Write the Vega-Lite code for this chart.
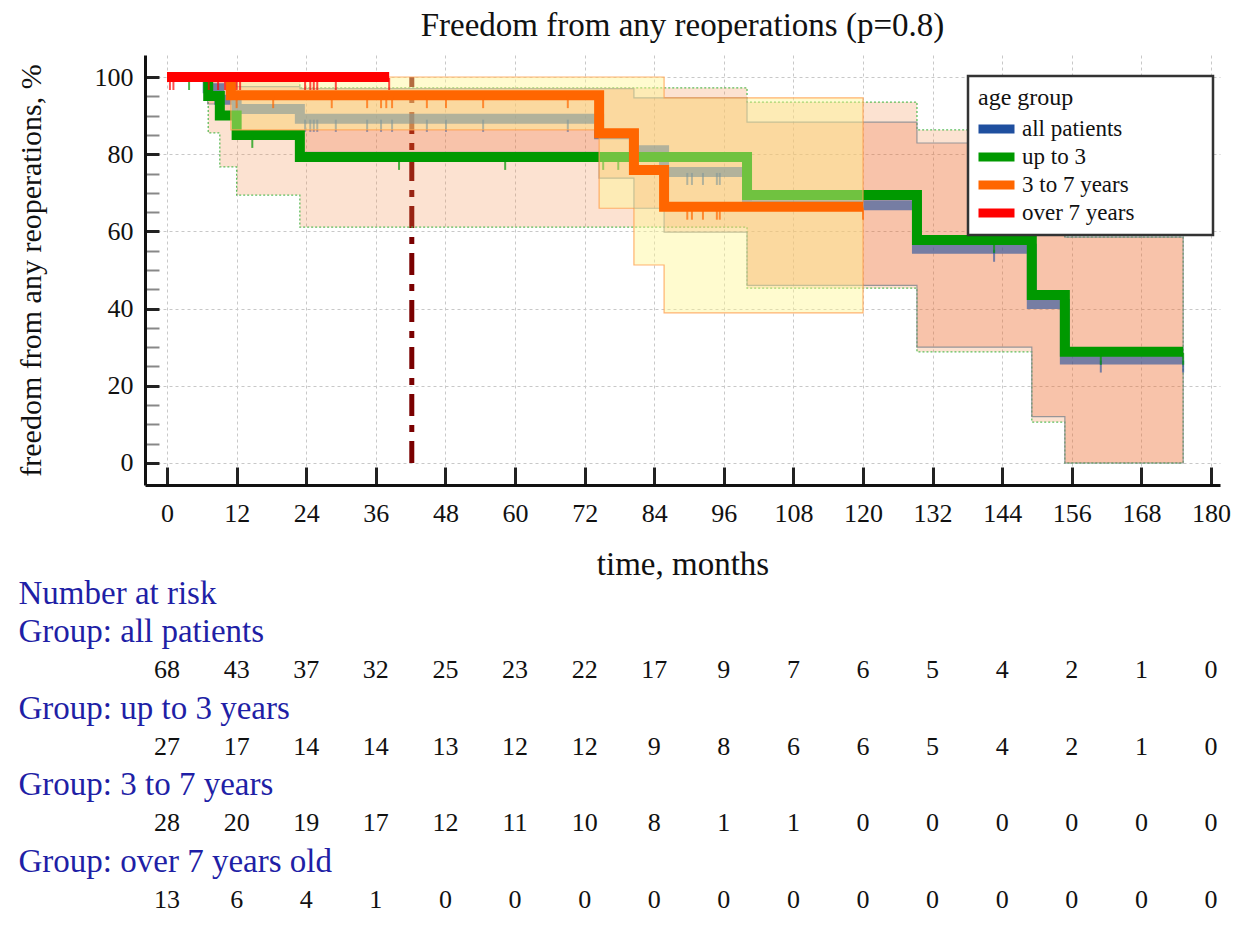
{
  "$schema": "https://vega.github.io/schema/vega-lite/v6.json",
  "autosize": {"type": "none"},
  "padding": {"left": 145, "top": 55, "right": 23, "bottom": 451},
  "width": 1075,
  "height": 430,
  "background": "white",
  "title": {"text": "Freedom from any reoperations (p=0.8)", "font": "Liberation Serif", "fontSize": 33, "fontWeight": "normal", "color": "#111", "anchor": "middle", "frame": "group", "offset": 12},
  "config": {
    "font": "Liberation Serif",
    "view": {"stroke": null},
    "axis": {"labelFont": "Liberation Serif", "titleFont": "Liberation Serif", "labelColor": "#111", "titleColor": "#111", "titleFontWeight": "normal"}
  },
  "datasets": {
    "marker": [{"month": 42.2, "value": 0, "value2": 100}],
    "curves": [
      {"group": "all patients", "month": 0, "value": 100},
      {"group": "all patients", "month": 7, "value": 97.1},
      {"group": "all patients", "month": 9, "value": 94.1},
      {"group": "all patients", "month": 12, "value": 91.7},
      {"group": "all patients", "month": 22.9, "value": 89.2},
      {"group": "all patients", "month": 74.5, "value": 85.2},
      {"group": "all patients", "month": 80.5, "value": 81},
      {"group": "all patients", "month": 85.7, "value": 75.4},
      {"group": "all patients", "month": 100, "value": 66.8},
      {"group": "all patients", "month": 129.3, "value": 55.5},
      {"group": "all patients", "month": 149.1, "value": 41.2},
      {"group": "all patients", "month": 154.8, "value": 26.8},
      {"group": "all patients", "month": 175.2, "value": 26.8},
      {"group": "up to 3", "month": 0, "value": 100},
      {"group": "up to 3", "month": 7.1, "value": 95.1},
      {"group": "up to 3", "month": 9.1, "value": 90.0},
      {"group": "up to 3", "month": 12, "value": 85.0},
      {"group": "up to 3", "month": 22.9, "value": 79.3},
      {"group": "up to 3", "month": 100, "value": 69.4},
      {"group": "up to 3", "month": 129.3, "value": 57.8},
      {"group": "up to 3", "month": 149.1, "value": 43.5},
      {"group": "up to 3", "month": 154.8, "value": 28.8},
      {"group": "up to 3", "month": 175.2, "value": 28.8},
      {"group": "3 to 7 years", "month": 0, "value": 100},
      {"group": "3 to 7 years", "month": 11, "value": 95.3},
      {"group": "3 to 7 years", "month": 74.5, "value": 85.4},
      {"group": "3 to 7 years", "month": 80.5, "value": 75.9},
      {"group": "3 to 7 years", "month": 85.7, "value": 66.4},
      {"group": "3 to 7 years", "month": 120, "value": 66.4},
      {"group": "over 7 years", "month": 0, "value": 100},
      {"group": "over 7 years", "month": 38.3, "value": 100}
    ],
    "bands": [
      {"band": "A", "month": 0, "value2": 100, "value": 100},
      {"band": "A", "month": 7.1, "value2": 85.5, "value": 100},
      {"band": "A", "month": 9.1, "value2": 76.7, "value": 100},
      {"band": "A", "month": 12, "value2": 69.4, "value": 100},
      {"band": "A", "month": 22.9, "value2": 61.1, "value": 97.2},
      {"band": "A", "month": 100, "value2": 45.3, "value": 93.5},
      {"band": "A", "month": 129.3, "value2": 28.8, "value": 86.3},
      {"band": "A", "month": 149.1, "value2": 10.6, "value": 72},
      {"band": "A", "month": 154.8, "value2": 0, "value": 58.5},
      {"band": "A", "month": 175.2, "value2": 0, "value": 58.5},
      {"band": "B", "month": 0, "value2": 100, "value": 100},
      {"band": "B", "month": 11, "value2": 86.3, "value": 100},
      {"band": "B", "month": 74.5, "value2": 66, "value": 100},
      {"band": "B", "month": 80.5, "value2": 51.3, "value": 100},
      {"band": "B", "month": 85.7, "value2": 38.9, "value": 94.6},
      {"band": "B", "month": 120, "value2": 38.9, "value": 94.6},
      {"band": "C", "month": 0, "value2": 100, "value": 100},
      {"band": "C", "month": 7, "value2": 93, "value": 100},
      {"band": "C", "month": 9, "value2": 89, "value": 100},
      {"band": "C", "month": 12, "value2": 85, "value": 97.5},
      {"band": "C", "month": 22.9, "value2": 80.5, "value": 97},
      {"band": "C", "month": 74.5, "value2": 73.8, "value": 97},
      {"band": "C", "month": 80.5, "value2": 66, "value": 94.6},
      {"band": "C", "month": 85.7, "value2": 59.8, "value": 94.6},
      {"band": "C", "month": 100, "value2": 46, "value": 88.3},
      {"band": "C", "month": 129.3, "value2": 30, "value": 82.9},
      {"band": "C", "month": 149.1, "value2": 12, "value": 70},
      {"band": "C", "month": 154.8, "value2": 0, "value": 58.5},
      {"band": "C", "month": 175.2, "value2": 0, "value": 58.5}
    ],
    "censor": [
      {"group": "over 7 years", "month": 0.5, "value": 100},
      {"group": "over 7 years", "month": 1.1, "value": 100},
      {"group": "over 7 years", "month": 7.2, "value": 100},
      {"group": "over 7 years", "month": 8.8, "value": 100},
      {"group": "over 7 years", "month": 10, "value": 100},
      {"group": "over 7 years", "month": 12, "value": 100},
      {"group": "over 7 years", "month": 12.6, "value": 100},
      {"group": "over 7 years", "month": 23.8, "value": 100},
      {"group": "over 7 years", "month": 24.7, "value": 100},
      {"group": "over 7 years", "month": 25.3, "value": 100},
      {"group": "over 7 years", "month": 25.9, "value": 100},
      {"group": "over 7 years", "month": 29.1, "value": 100},
      {"group": "over 7 years", "month": 38.3, "value": 100},
      {"group": "3 to 7 years", "month": 12, "value": 95.3},
      {"group": "3 to 7 years", "month": 18.3, "value": 95.3},
      {"group": "3 to 7 years", "month": 28.4, "value": 95.3},
      {"group": "3 to 7 years", "month": 34.5, "value": 95.3},
      {"group": "3 to 7 years", "month": 36.9, "value": 95.3},
      {"group": "3 to 7 years", "month": 37.8, "value": 95.3},
      {"group": "3 to 7 years", "month": 38.8, "value": 95.3},
      {"group": "3 to 7 years", "month": 44.8, "value": 95.3},
      {"group": "3 to 7 years", "month": 48.1, "value": 95.3},
      {"group": "3 to 7 years", "month": 54.5, "value": 95.3},
      {"group": "3 to 7 years", "month": 69.1, "value": 95.3},
      {"group": "3 to 7 years", "month": 89.7, "value": 66.4},
      {"group": "3 to 7 years", "month": 90.5, "value": 66.4},
      {"group": "3 to 7 years", "month": 92.4, "value": 66.4},
      {"group": "3 to 7 years", "month": 94.8, "value": 66.4},
      {"group": "3 to 7 years", "month": 95.3, "value": 66.4},
      {"group": "3 to 7 years", "month": 120, "value": 66.4},
      {"group": "up to 3", "month": 3.8, "value": 100},
      {"group": "up to 3", "month": 14.7, "value": 85},
      {"group": "up to 3", "month": 40, "value": 79.3},
      {"group": "up to 3", "month": 58.3, "value": 79.3},
      {"group": "up to 3", "month": 75.2, "value": 79.3},
      {"group": "up to 3", "month": 77.8, "value": 79.3},
      {"group": "up to 3", "month": 142.6, "value": 57.8},
      {"group": "up to 3", "month": 161, "value": 28.8},
      {"group": "up to 3", "month": 175.2, "value": 28.8},
      {"group": "all patients", "month": 23.8, "value": 89.2},
      {"group": "all patients", "month": 24.7, "value": 89.2},
      {"group": "all patients", "month": 25.3, "value": 89.2},
      {"group": "all patients", "month": 25.9, "value": 89.2},
      {"group": "all patients", "month": 29.1, "value": 89.2},
      {"group": "all patients", "month": 34.5, "value": 89.2},
      {"group": "all patients", "month": 36.9, "value": 89.2},
      {"group": "all patients", "month": 38.8, "value": 89.2},
      {"group": "all patients", "month": 44.8, "value": 89.2},
      {"group": "all patients", "month": 48.1, "value": 89.2},
      {"group": "all patients", "month": 54.5, "value": 89.2},
      {"group": "all patients", "month": 69.1, "value": 89.2},
      {"group": "all patients", "month": 89.7, "value": 75.4},
      {"group": "all patients", "month": 90.5, "value": 75.4},
      {"group": "all patients", "month": 92.4, "value": 75.4},
      {"group": "all patients", "month": 94.8, "value": 75.4},
      {"group": "all patients", "month": 95.3, "value": 75.4},
      {"group": "all patients", "month": 142.6, "value": 55.5},
      {"group": "all patients", "month": 161, "value": 26.8},
      {"group": "all patients", "month": 175.2, "value": 26.8}
    ],
    "risk": [
      {"row": "all patients", "month": 0, "n": 68}, {"row": "all patients", "month": 12, "n": 43}, {"row": "all patients", "month": 24, "n": 37}, {"row": "all patients", "month": 36, "n": 32},
      {"row": "all patients", "month": 48, "n": 25}, {"row": "all patients", "month": 60, "n": 23}, {"row": "all patients", "month": 72, "n": 22}, {"row": "all patients", "month": 84, "n": 17},
      {"row": "all patients", "month": 96, "n": 9}, {"row": "all patients", "month": 108, "n": 7}, {"row": "all patients", "month": 120, "n": 6}, {"row": "all patients", "month": 132, "n": 5},
      {"row": "all patients", "month": 144, "n": 4}, {"row": "all patients", "month": 156, "n": 2}, {"row": "all patients", "month": 168, "n": 1}, {"row": "all patients", "month": 180, "n": 0},
      {"row": "up to 3 years", "month": 0, "n": 27}, {"row": "up to 3 years", "month": 12, "n": 17}, {"row": "up to 3 years", "month": 24, "n": 14}, {"row": "up to 3 years", "month": 36, "n": 14},
      {"row": "up to 3 years", "month": 48, "n": 13}, {"row": "up to 3 years", "month": 60, "n": 12}, {"row": "up to 3 years", "month": 72, "n": 12}, {"row": "up to 3 years", "month": 84, "n": 9},
      {"row": "up to 3 years", "month": 96, "n": 8}, {"row": "up to 3 years", "month": 108, "n": 6}, {"row": "up to 3 years", "month": 120, "n": 6}, {"row": "up to 3 years", "month": 132, "n": 5},
      {"row": "up to 3 years", "month": 144, "n": 4}, {"row": "up to 3 years", "month": 156, "n": 2}, {"row": "up to 3 years", "month": 168, "n": 1}, {"row": "up to 3 years", "month": 180, "n": 0},
      {"row": "3 to 7 years", "month": 0, "n": 28}, {"row": "3 to 7 years", "month": 12, "n": 20}, {"row": "3 to 7 years", "month": 24, "n": 19}, {"row": "3 to 7 years", "month": 36, "n": 17},
      {"row": "3 to 7 years", "month": 48, "n": 12}, {"row": "3 to 7 years", "month": 60, "n": 11}, {"row": "3 to 7 years", "month": 72, "n": 10}, {"row": "3 to 7 years", "month": 84, "n": 8},
      {"row": "3 to 7 years", "month": 96, "n": 1}, {"row": "3 to 7 years", "month": 108, "n": 1}, {"row": "3 to 7 years", "month": 120, "n": 0}, {"row": "3 to 7 years", "month": 132, "n": 0},
      {"row": "3 to 7 years", "month": 144, "n": 0}, {"row": "3 to 7 years", "month": 156, "n": 0}, {"row": "3 to 7 years", "month": 168, "n": 0}, {"row": "3 to 7 years", "month": 180, "n": 0},
      {"row": "over 7 years old", "month": 0, "n": 13}, {"row": "over 7 years old", "month": 12, "n": 6}, {"row": "over 7 years old", "month": 24, "n": 4}, {"row": "over 7 years old", "month": 36, "n": 1},
      {"row": "over 7 years old", "month": 48, "n": 0}, {"row": "over 7 years old", "month": 60, "n": 0}, {"row": "over 7 years old", "month": 72, "n": 0}, {"row": "over 7 years old", "month": 84, "n": 0},
      {"row": "over 7 years old", "month": 96, "n": 0}, {"row": "over 7 years old", "month": 108, "n": 0}, {"row": "over 7 years old", "month": 120, "n": 0}, {"row": "over 7 years old", "month": 132, "n": 0},
      {"row": "over 7 years old", "month": 144, "n": 0}, {"row": "over 7 years old", "month": 156, "n": 0}, {"row": "over 7 years old", "month": 168, "n": 0}, {"row": "over 7 years old", "month": 180, "n": 0}
    ]
  },
  "resolve": {"scale": {"y": "independent"}},
  "encoding": {
    "x": {"field": "month", "type": "quantitative", "scale": {"domain": [-3.8, 181.55], "nice": false, "zero": false},
      "axis": {"title": "time, months", "values": [0, 12, 24, 36, 48, 60, 72, 84, 96, 108, 120, 132, 144, 156, 168, 180],
        "grid": true, "gridColor": "#c8c8c8", "gridDash": [3, 3], "gridWidth": 1,
        "domainColor": "#111", "domainWidth": 3, "tickColor": "#222", "tickWidth": 3, "tickSize": -18,
        "labelPadding": 33, "labelFontSize": 26, "labelFlush": false, "labelOverlap": false,
        "titleFontSize": 33, "titlePadding": 22}}
  },
  "layer": [
    {
      "encoding": {
        "y": {"field": "value", "type": "quantitative", "scale": {"domain": [-5.7, 105.7], "nice": false, "zero": false},
          "axis": {"title": "freedom from any reoperations, %",
            "values": [0, 5, 10, 15, 20, 25, 30, 35, 40, 45, 50, 55, 60, 65, 70, 75, 80, 85, 90, 95, 100],
            "labelExpr": "datum.value % 20 === 0 ? datum.label : ''",
            "grid": true, "gridColor": "#c8c8c8", "gridDash": [3, 3], "gridWidth": 1,
            "gridOpacity": {"condition": {"test": "datum.value % 20 === 0", "value": 1}, "value": 0},
            "domainColor": "#111", "domainWidth": 3,
            "tickColor": {"condition": {"test": "datum.value % 20 === 0", "value": "#222"}, "value": "#888"},
            "tickWidth": {"condition": {"test": "datum.value % 20 === 0", "value": 3}, "value": 2},
            "tickSize": -14,
            "labelPadding": 26, "labelFontSize": 26, "labelFlush": false, "labelOverlap": false,
            "titleFontSize": 30, "titlePadding": 48}}
      },
      "layer": [
        {
          "data": {"name": "marker"},
          "mark": {"type": "rule", "color": "#7a0000", "strokeWidth": 5, "strokeDash": [22, 9, 7, 9]},
          "encoding": {"y2": {"field": "value2"}}
        },
        {
          "data": {"name": "bands"},
          "transform": [{"filter": "datum.band === 'A'"}],
          "mark": {"type": "area", "interpolate": "step-after", "fill": "#f58c46", "fillOpacity": 0.25, "stroke": "#4cb84c", "strokeWidth": 1.3, "strokeDash": [2, 2], "strokeOpacity": 0.9},
          "encoding": {"y2": {"field": "value2"}}
        },
        {
          "data": {"name": "bands"},
          "transform": [{"filter": "datum.band === 'C'"}],
          "mark": {"type": "area", "interpolate": "step-after", "fill": "#eb4c0f", "fillOpacity": 0.2, "stroke": "#7f8790", "strokeWidth": 1.2, "strokeOpacity": 0.8},
          "encoding": {"y2": {"field": "value2"}}
        },
        {
          "data": {"name": "curves"},
          "transform": [{"filter": "datum.group === 'all patients'"}],
          "mark": {"type": "line", "interpolate": "step-after", "strokeWidth": 10, "strokeOpacity": 0.6},
          "encoding": {
            "color": {"field": "group", "type": "nominal",
              "scale": {"domain": ["all patients", "up to 3", "3 to 7 years", "over 7 years"], "range": ["#1f4f9f", "#009900", "#ff6600", "#ff0000"]},
              "legend": {"title": "age group", "orient": "none", "legendX": 823, "legendY": 21, "symbolType": "M-1,0H2", "symbolSize": 576, "symbolStrokeWidth": 9, "symbolOpacity": 1, "symbolOffset": -4,
                "clipHeight": 24,
                "labelFont": "Liberation Serif", "labelFontSize": 23, "labelColor": "#111", "labelOffset": 15, "labelLimit": 400, "labelExpr": "datum.label + '\u2800\u2800\u2800\u2800'",
                "titleFont": "Liberation Serif", "titleFontSize": 24, "titleFontWeight": "normal", "titleColor": "#111", "titlePadding": 7,
                "rowPadding": 4, "padding": 10, "strokeColor": "#333", "fillColor": "white",
                "encode": {"legend": {"update": {"strokeWidth": {"value": 2.5}}}}}}
          }
        },
        {
          "data": {"name": "censor"},
          "transform": [{"filter": "datum.group === 'all patients'"}],
          "mark": {"type": "tick", "orient": "vertical", "color": "#1f4f9f", "opacity": 0.6, "size": 12, "thickness": 2, "yOffset": 7},
          "encoding": {}
        },
        {
          "data": {"name": "curves"},
          "transform": [{"filter": "datum.group === 'up to 3'"}],
          "mark": {"type": "line", "interpolate": "step-after", "strokeWidth": 10},
          "encoding": {
            "color": {"field": "group", "type": "nominal",
              "scale": {"domain": ["all patients", "up to 3", "3 to 7 years", "over 7 years"], "range": ["#1f4f9f", "#009900", "#ff6600", "#ff0000"]},
              "legend": {"title": "age group", "orient": "none", "legendX": 823, "legendY": 21, "symbolType": "M-1,0H2", "symbolSize": 576, "symbolStrokeWidth": 9, "symbolOpacity": 1, "symbolOffset": -4,
                "clipHeight": 24,
                "labelFont": "Liberation Serif", "labelFontSize": 23, "labelColor": "#111", "labelOffset": 15, "labelLimit": 400, "labelExpr": "datum.label + '\u2800\u2800\u2800\u2800'",
                "titleFont": "Liberation Serif", "titleFontSize": 24, "titleFontWeight": "normal", "titleColor": "#111", "titlePadding": 7,
                "rowPadding": 4, "padding": 10, "strokeColor": "#333", "fillColor": "white",
                "encode": {"legend": {"update": {"strokeWidth": {"value": 2.5}}}}}}
          }
        },
        {
          "data": {"name": "censor"},
          "transform": [{"filter": "datum.group === 'up to 3'"}],
          "mark": {"type": "tick", "orient": "vertical", "color": "#009900", "size": 12, "thickness": 2, "yOffset": 7},
          "encoding": {}
        },
        {
          "data": {"name": "bands"},
          "transform": [{"filter": "datum.band === 'B'"}],
          "mark": {"type": "area", "interpolate": "step-after", "fill": "#fff591", "fillOpacity": 0.44, "stroke": "#ffa050", "strokeWidth": 1.2, "strokeOpacity": 0.8},
          "encoding": {"y2": {"field": "value2"}}
        },
        {
          "data": {"name": "curves"},
          "transform": [{"filter": "datum.group === '3 to 7 years'"}],
          "mark": {"type": "line", "interpolate": "step-after", "strokeWidth": 10},
          "encoding": {
            "color": {"field": "group", "type": "nominal",
              "scale": {"domain": ["all patients", "up to 3", "3 to 7 years", "over 7 years"], "range": ["#1f4f9f", "#009900", "#ff6600", "#ff0000"]},
              "legend": {"title": "age group", "orient": "none", "legendX": 823, "legendY": 21, "symbolType": "M-1,0H2", "symbolSize": 576, "symbolStrokeWidth": 9, "symbolOpacity": 1, "symbolOffset": -4,
                "clipHeight": 24,
                "labelFont": "Liberation Serif", "labelFontSize": 23, "labelColor": "#111", "labelOffset": 15, "labelLimit": 400, "labelExpr": "datum.label + '\u2800\u2800\u2800\u2800'",
                "titleFont": "Liberation Serif", "titleFontSize": 24, "titleFontWeight": "normal", "titleColor": "#111", "titlePadding": 7,
                "rowPadding": 4, "padding": 10, "strokeColor": "#333", "fillColor": "white",
                "encode": {"legend": {"update": {"strokeWidth": {"value": 2.5}}}}}}
          }
        },
        {
          "data": {"name": "censor"},
          "transform": [{"filter": "datum.group === '3 to 7 years'"}],
          "mark": {"type": "tick", "orient": "vertical", "color": "#ff6600", "size": 12, "thickness": 2, "yOffset": 7},
          "encoding": {}
        },
        {
          "data": {"name": "curves"},
          "transform": [{"filter": "datum.group === 'over 7 years'"}],
          "mark": {"type": "line", "interpolate": "step-after", "strokeWidth": 10},
          "encoding": {
            "color": {"field": "group", "type": "nominal",
              "scale": {"domain": ["all patients", "up to 3", "3 to 7 years", "over 7 years"], "range": ["#1f4f9f", "#009900", "#ff6600", "#ff0000"]},
              "legend": {"title": "age group", "orient": "none", "legendX": 823, "legendY": 21, "symbolType": "M-1,0H2", "symbolSize": 576, "symbolStrokeWidth": 9, "symbolOpacity": 1, "symbolOffset": -4,
                "clipHeight": 24,
                "labelFont": "Liberation Serif", "labelFontSize": 23, "labelColor": "#111", "labelOffset": 15, "labelLimit": 400, "labelExpr": "datum.label + '\u2800\u2800\u2800\u2800'",
                "titleFont": "Liberation Serif", "titleFontSize": 24, "titleFontWeight": "normal", "titleColor": "#111", "titlePadding": 7,
                "rowPadding": 4, "padding": 10, "strokeColor": "#333", "fillColor": "white",
                "encode": {"legend": {"update": {"strokeWidth": {"value": 2.5}}}}}}
          }
        },
        {
          "data": {"name": "censor"},
          "transform": [{"filter": "datum.group === 'over 7 years'"}],
          "mark": {"type": "tick", "orient": "vertical", "color": "#ff0000", "size": 12, "thickness": 2, "yOffset": 7},
          "encoding": {}
        }
      ]
    },
    {
      "data": {"name": "risk"},
      "mark": {"type": "text", "align": "center", "baseline": "middle", "font": "Liberation Serif", "fontSize": 26, "color": "#111"},
      "encoding": {
        "y": {"field": "row", "type": "ordinal",
          "scale": {"type": "point", "domain": ["Number at risk", "Group: all patients", "all patients", "Group: up to 3 years", "up to 3 years", "Group: 3 to 7 years", "3 to 7 years", "Group: over 7 years old", "over 7 years old"], "range": [538, 845], "padding": 0},
          "axis": {"orient": "left", "title": null, "values": ["Number at risk", "Group: all patients", "Group: up to 3 years", "Group: 3 to 7 years", "Group: over 7 years old"],
            "domain": false, "ticks": false, "tickSize": 0, "grid": false,
            "labelAlign": "left", "labelBaseline": "middle", "labelPadding": 127, "labelLimit": 1000,
            "labelFont": "Liberation Serif", "labelFontSize": 33, "labelColor": "#1f1fa6", "labelOverlap": false, "labelFlush": false}},
        "text": {"field": "n"}
      }
    }
  ]
}
